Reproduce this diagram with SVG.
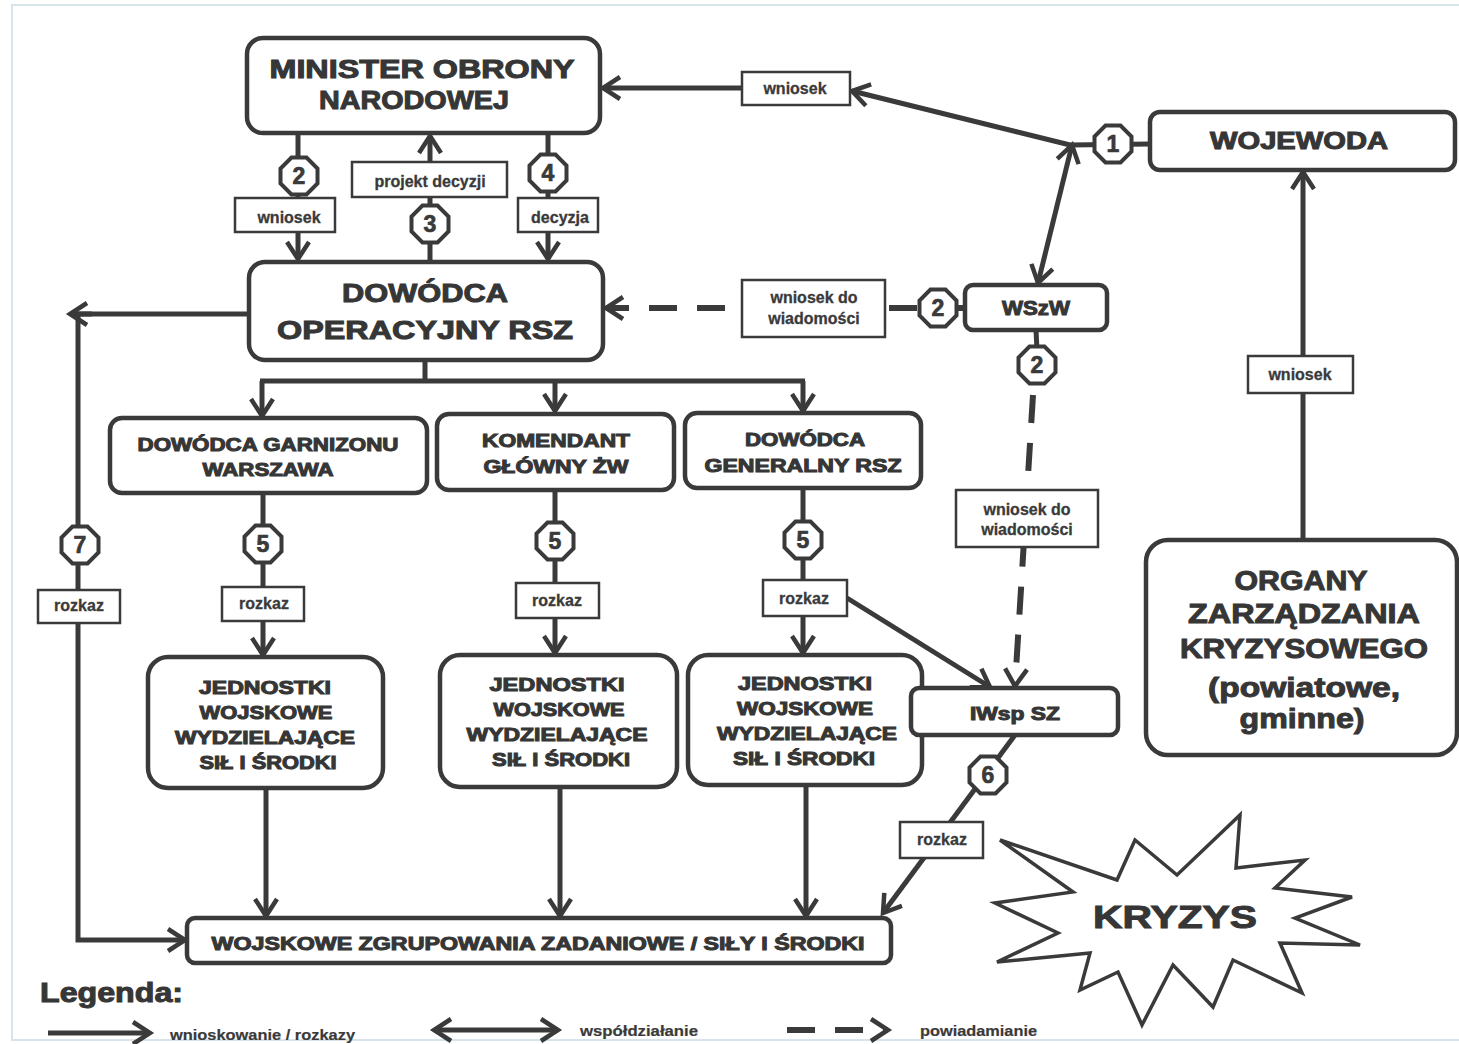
<svg xmlns="http://www.w3.org/2000/svg" xmlns:xlink="http://www.w3.org/1999/xlink" width="1459" height="1044" viewBox="0 0 1459 1044">
<style>
.node{fill:#fff;stroke:#3a3a3a;stroke-width:4.5}
.nt{font-family:"Liberation Sans",Arial,sans-serif;font-weight:bold;fill:#363636;stroke:#363636;stroke-width:1;text-anchor:middle}
.ln{fill:none;stroke:#3a3a3a;stroke-width:5}
.dash{fill:none;stroke:#3a3a3a;stroke-width:6;stroke-dasharray:28 20}
.lb{fill:#fff;stroke:#3a3a3a;stroke-width:2.5}
.lt{font-family:"Liberation Sans",Arial,sans-serif;font-weight:bold;font-size:16px;fill:#3a3a3a;stroke:#3a3a3a;stroke-width:0.3;text-anchor:middle}
.oct{fill:#fff;stroke:#3a3a3a;stroke-width:4}
.ot{font-family:"Liberation Sans",Arial,sans-serif;font-weight:bold;font-size:23px;fill:#3a3a3a;stroke:#3a3a3a;stroke-width:0.7;text-anchor:middle}
.leg{font-family:"Liberation Sans",Arial,sans-serif;font-weight:bold;font-size:15px;fill:#3a3a3a;stroke:#3a3a3a;stroke-width:0.2}
</style>
<defs>
<marker id="ah" markerUnits="userSpaceOnUse" markerWidth="30" markerHeight="30" viewBox="0 0 30 30" refX="25" refY="15" orient="auto-start-reverse">
<path d="M8,4 L25,15 L8,26" fill="none" stroke="#3a3a3a" stroke-width="4.5"/>
</marker>
<polygon id="octs" class="oct" points="-7.5,-18.5 7.5,-18.5 18.5,-7.5 18.5,7.5 7.5,18.5 -7.5,18.5 -18.5,7.5 -18.5,-7.5"/>
</defs>
<rect width="1459" height="1044" fill="#fff"/>
<g id="page-border" fill="none" stroke="#d8e3ea" stroke-width="2">
<path d="M1459,5 H12 V1040 H1459"/>
</g>

<g id="connectors">
<line class="ln" x1="298" y1="133" x2="298" y2="259" marker-end="url(#ah)"/>
<line class="ln" x1="430" y1="262" x2="430" y2="136" marker-end="url(#ah)"/>
<line class="ln" x1="548" y1="133" x2="548" y2="259" marker-end="url(#ah)"/>
<polyline class="ln" points="1150,144 1070,145 852,91" marker-end="url(#ah)"/>
<line class="ln" x1="742" y1="88" x2="603" y2="88" marker-end="url(#ah)"/>
<line class="ln" x1="1072" y1="145" x2="1038" y2="283" marker-start="url(#ah)" marker-end="url(#ah)"/>
<line class="dash" x1="965" y1="308" x2="606" y2="308" marker-end="url(#ah)"/>
<line class="ln" x1="1036" y1="330" x2="1037" y2="350"/>
<line class="dash" x1="1033" y1="395" x2="1015" y2="686" marker-end="url(#ah)"/>
<line class="ln" x1="425" y1="360" x2="425" y2="381"/>
<line class="ln" x1="260" y1="381" x2="805" y2="381"/>
<line class="ln" x1="262" y1="381" x2="262" y2="416" marker-end="url(#ah)"/>
<line class="ln" x1="555" y1="381" x2="555" y2="411" marker-end="url(#ah)"/>
<line class="ln" x1="803" y1="381" x2="803" y2="411" marker-end="url(#ah)"/>
<path class="ln" d="M249,314 H78 V940 H185" marker-end="url(#ah)"/>
<line class="ln" x1="92" y1="314" x2="70" y2="314" marker-end="url(#ah)"/>
<line class="ln" x1="263" y1="493" x2="263" y2="655" marker-end="url(#ah)"/>
<line class="ln" x1="555" y1="490" x2="555" y2="653" marker-end="url(#ah)"/>
<line class="ln" x1="803" y1="488" x2="803" y2="653" marker-end="url(#ah)"/>
<line class="ln" x1="847" y1="598" x2="990" y2="687" marker-end="url(#ah)"/>
<line class="ln" x1="266" y1="788" x2="266" y2="916" marker-end="url(#ah)"/>
<line class="ln" x1="560" y1="787" x2="560" y2="916" marker-end="url(#ah)"/>
<line class="ln" x1="806" y1="785" x2="806" y2="916" marker-end="url(#ah)"/>
<line class="ln" x1="1015" y1="735" x2="883" y2="913" marker-end="url(#ah)"/>
<line class="ln" x1="1303" y1="540" x2="1303" y2="172" marker-end="url(#ah)"/>

<g id="labels">
<rect class="lb" x="235" y="198" width="100" height="34"/><text class="lt" x="289" y="223">wniosek</text>
<rect class="lb" x="352" y="162" width="155" height="35"/><text class="lt" x="430" y="187">projekt decyzji</text>
<rect class="lb" x="518" y="198" width="80" height="34"/><text class="lt" x="560" y="223" textLength="58" lengthAdjust="spacingAndGlyphs">decyzja</text>
<rect class="lb" x="742" y="72" width="108" height="33"/><text class="lt" x="795" y="94">wniosek</text>
<rect class="lb" x="742" y="280" width="143" height="57"/><text class="lt" x="814" y="303">wniosek do</text><text class="lt" x="814" y="324">wiadomości</text>
<rect class="lb" x="956" y="490" width="142" height="57"/><text class="lt" x="1027" y="515">wniosek do</text><text class="lt" x="1027" y="535">wiadomości</text>
<rect class="lb" x="1248" y="356" width="105" height="37"/><text class="lt" x="1300" y="380">wniosek</text>
<rect class="lb" x="38" y="590" width="82" height="33"/><text class="lt" x="79" y="611">rozkaz</text>
<rect class="lb" x="222" y="587" width="82" height="34"/><text class="lt" x="264" y="609">rozkaz</text>
<rect class="lb" x="516" y="583" width="83" height="35"/><text class="lt" x="557" y="606">rozkaz</text>
<rect class="lb" x="763" y="580" width="84" height="36"/><text class="lt" x="804" y="604">rozkaz</text>
<rect class="lb" x="900" y="822" width="83" height="36"/><text class="lt" x="942" y="845">rozkaz</text>
</g>
<g id="numbers">
<use href="#octs" x="299" y="176"/><text class="ot" x="299" y="184">2</text>
<use href="#octs" x="430" y="224"/><text class="ot" x="430" y="232">3</text>
<use href="#octs" x="548" y="173"/><text class="ot" x="548" y="181">4</text>
<use href="#octs" x="1113" y="144"/><text class="ot" x="1113" y="152">1</text>
<use href="#octs" x="938" y="308"/><text class="ot" x="938" y="316">2</text>
<use href="#octs" x="1037" y="365"/><text class="ot" x="1037" y="373">2</text>
<use href="#octs" x="80" y="545"/><text class="ot" x="80" y="553">7</text>
<use href="#octs" x="263" y="544"/><text class="ot" x="263" y="552">5</text>
<use href="#octs" x="555" y="541"/><text class="ot" x="555" y="549">5</text>
<use href="#octs" x="803" y="540"/><text class="ot" x="803" y="548">5</text>
<use href="#octs" x="988" y="775"/><text class="ot" x="988" y="783">6</text>
</g>
</g>

<g id="minister">
<rect class="node" x="247" y="38" width="353" height="95" rx="16"/>
<text class="nt" x="422" y="78" font-size="25" textLength="305" lengthAdjust="spacingAndGlyphs">MINISTER OBRONY</text>
<text class="nt" x="414" y="109" font-size="25" textLength="190" lengthAdjust="spacingAndGlyphs">NARODOWEJ</text>
</g>
<g id="dowodca-operacyjny">
<rect class="node" x="249" y="262" width="354" height="98" rx="16"/>
<text class="nt" x="425" y="302" font-size="26" textLength="166" lengthAdjust="spacingAndGlyphs">DOWÓDCA</text>
<text class="nt" x="425" y="339" font-size="26" textLength="296" lengthAdjust="spacingAndGlyphs">OPERACYJNY RSZ</text>
</g>
<g id="wojewoda">
<rect class="node" x="1150" y="112" width="305" height="58" rx="10"/>
<text class="nt" x="1299" y="149" font-size="23" textLength="178" lengthAdjust="spacingAndGlyphs">WOJEWODA</text>
</g>
<g id="wszw">
<rect class="node" x="965" y="285" width="142" height="45" rx="8"/>
<text class="nt" x="1036" y="315" font-size="20" textLength="68" lengthAdjust="spacingAndGlyphs">WSzW</text>
</g>
<g id="organy">
<rect class="node" x="1146" y="540" width="311" height="215" rx="22"/>
<text class="nt" x="1301" y="590" font-size="28" textLength="133" lengthAdjust="spacingAndGlyphs">ORGANY</text>
<text class="nt" x="1304" y="623" font-size="28" textLength="232" lengthAdjust="spacingAndGlyphs">ZARZĄDZANIA</text>
<text class="nt" x="1304" y="658" font-size="28" textLength="248" lengthAdjust="spacingAndGlyphs">KRYZYSOWEGO</text>
<text class="nt" x="1304" y="697" font-size="28" textLength="192" lengthAdjust="spacingAndGlyphs">(powiatowe,</text>
<text class="nt" x="1302" y="728" font-size="28" textLength="125" lengthAdjust="spacingAndGlyphs">gminne)</text>
</g>
<g id="dowodca-garnizonu">
<rect class="node" x="110" y="418" width="317" height="75" rx="12"/>
<text class="nt" x="268" y="451" font-size="18" textLength="261" lengthAdjust="spacingAndGlyphs">DOWÓDCA GARNIZONU</text>
<text class="nt" x="268" y="476" font-size="18" textLength="131" lengthAdjust="spacingAndGlyphs">WARSZAWA</text>
</g>
<g id="komendant">
<rect class="node" x="437" y="414" width="237" height="76" rx="12"/>
<text class="nt" x="556" y="447" font-size="18" textLength="148" lengthAdjust="spacingAndGlyphs">KOMENDANT</text>
<text class="nt" x="556" y="473" font-size="18" textLength="145" lengthAdjust="spacingAndGlyphs">GŁÓWNY ŻW</text>
</g>
<g id="dowodca-generalny">
<rect class="node" x="685" y="413" width="236" height="75" rx="12"/>
<text class="nt" x="805" y="446" font-size="18" textLength="120" lengthAdjust="spacingAndGlyphs">DOWÓDCA</text>
<text class="nt" x="803" y="472" font-size="18" textLength="197" lengthAdjust="spacingAndGlyphs">GENERALNY RSZ</text>
</g>
<g id="jednostki-1">
<rect class="node" x="148" y="657" width="235" height="131" rx="20"/>
<text class="nt" x="265" y="694" font-size="18" textLength="132" lengthAdjust="spacingAndGlyphs">JEDNOSTKI</text>
<text class="nt" x="266" y="719" font-size="18" textLength="133" lengthAdjust="spacingAndGlyphs">WOJSKOWE</text>
<text class="nt" x="265" y="744" font-size="18" textLength="180" lengthAdjust="spacingAndGlyphs">WYDZIELAJĄCE</text>
<text class="nt" x="268" y="769" font-size="18" textLength="137" lengthAdjust="spacingAndGlyphs">SIŁ I ŚRODKI</text>
</g>
<g id="jednostki-2">
<rect class="node" x="440" y="655" width="237" height="132" rx="20"/>
<text class="nt" x="557" y="691" font-size="18" textLength="135" lengthAdjust="spacingAndGlyphs">JEDNOSTKI</text>
<text class="nt" x="559" y="716" font-size="18" textLength="131" lengthAdjust="spacingAndGlyphs">WOJSKOWE</text>
<text class="nt" x="557" y="741" font-size="18" textLength="181" lengthAdjust="spacingAndGlyphs">WYDZIELAJĄCE</text>
<text class="nt" x="561" y="766" font-size="18" textLength="138" lengthAdjust="spacingAndGlyphs">SIŁ I ŚRODKI</text>
</g>
<g id="jednostki-3">
<rect class="node" x="688" y="655" width="234" height="130" rx="20"/>
<text class="nt" x="805" y="690" font-size="18" textLength="134" lengthAdjust="spacingAndGlyphs">JEDNOSTKI</text>
<text class="nt" x="805" y="715" font-size="18" textLength="136" lengthAdjust="spacingAndGlyphs">WOJSKOWE</text>
<text class="nt" x="807" y="740" font-size="18" textLength="180" lengthAdjust="spacingAndGlyphs">WYDZIELAJĄCE</text>
<text class="nt" x="804" y="765" font-size="18" textLength="142" lengthAdjust="spacingAndGlyphs">SIŁ I ŚRODKI</text>
</g>
<g id="iwsp-sz">
<rect class="node" x="911" y="688" width="207" height="47" rx="8"/>
<text class="nt" x="1015" y="720" font-size="18" textLength="90" lengthAdjust="spacingAndGlyphs">IWsp SZ</text>
</g>
<g id="wojskowe-zgrupowania">
<rect class="node" x="187" y="918" width="704" height="45" rx="8"/>
<text class="nt" x="538" y="950" font-size="18" textLength="653" lengthAdjust="spacingAndGlyphs">WOJSKOWE ZGRUPOWANIA ZADANIOWE / SIŁY I ŚRODKI</text>
</g>
<g id="kryzys">
<polygon fill="#fff" stroke="#3a3a3a" stroke-width="3.5" stroke-linejoin="miter" points="1000,840 1117,880 1135,840 1177,875 1240,815 1236,868 1305,860 1275,888 1352,897 1295,918 1360,945 1280,943 1302,993 1233,960 1213,1007 1173,965 1142,1025 1118,972 1080,990 1090,953 997,962 1058,933 995,903 1073,892"/>
<text class="nt" x="1175" y="928" font-size="32" textLength="164" lengthAdjust="spacingAndGlyphs">KRYZYS</text>
</g>
<g id="legend">
<text class="nt" x="40" y="1002" font-size="27" style="text-anchor:start" textLength="143" lengthAdjust="spacingAndGlyphs">Legenda:</text>
<line class="ln" x1="48" y1="1033" x2="150" y2="1033" marker-end="url(#ah)"/>
<text class="leg" x="170" y="1040" textLength="185" lengthAdjust="spacingAndGlyphs">wnioskowanie / rozkazy</text>
<line class="ln" x1="434" y1="1030" x2="558" y2="1030" marker-start="url(#ah)" marker-end="url(#ah)"/>
<text class="leg" x="580" y="1036" textLength="118" lengthAdjust="spacingAndGlyphs">współdziałanie</text>
<line class="dash" x1="787" y1="1030" x2="888" y2="1030" stroke-dasharray="22 12" marker-end="url(#ah)"/>
<text class="leg" x="920" y="1036" textLength="117" lengthAdjust="spacingAndGlyphs">powiadamianie</text>
</g>
</svg>
